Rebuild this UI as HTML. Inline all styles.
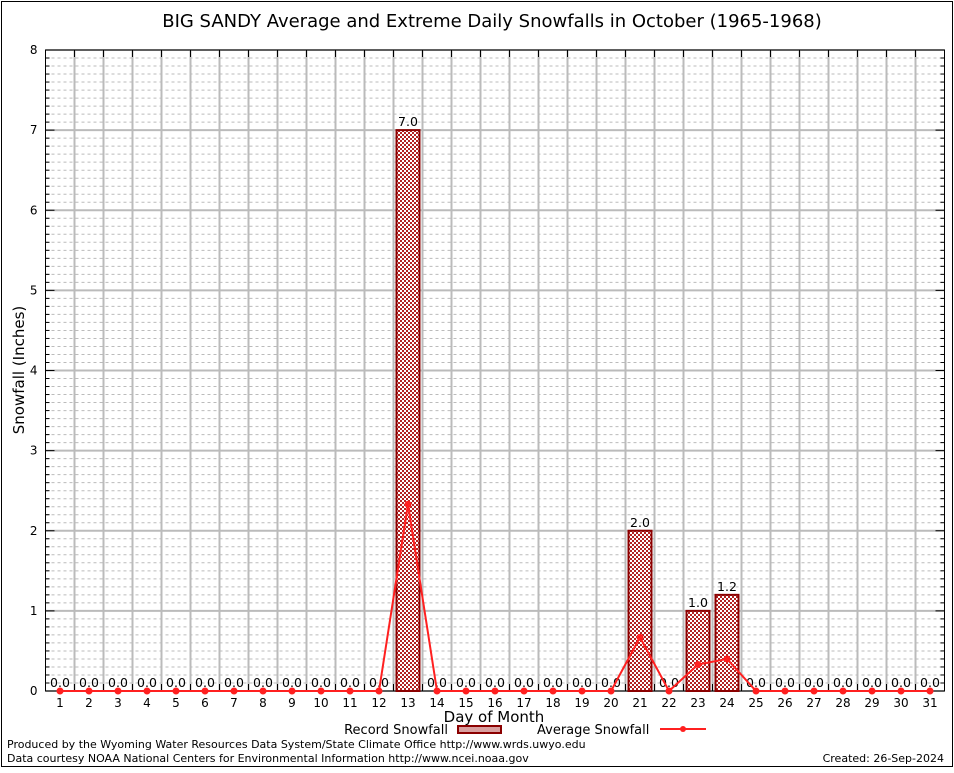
<!DOCTYPE html>
<html><head><meta charset="utf-8"><style>
body{margin:0;background:#fff;}
svg text{font-family:"DejaVu Sans","Liberation Sans",sans-serif;}
</style></head><body>
<svg id="chart" width="954" height="768" xmlns="http://www.w3.org/2000/svg">
<rect x="1.5" y="1.5" width="951" height="765" fill="#fff" stroke="#000" stroke-width="1"/>
<text x="492" y="27" font-size="18" text-anchor="middle">BIG SANDY Average and Extreme Daily Snowfalls in October (1965-1968)</text>
<g id="grid"></g>
<g id="marks"></g>
<text transform="translate(24,370) rotate(-90)" font-size="15" text-anchor="middle">Snowfall (Inches)</text>
<text x="494" y="722" font-size="15" text-anchor="middle">Day of Month</text>
<g>
<text x="448" y="734" font-size="13" text-anchor="end">Record Snowfall</text>
<rect x="458" y="726" width="43" height="7" fill="#d9a0a0" stroke="#8b0000" stroke-width="2"/>
</g>
<g>
<text x="537" y="734" font-size="13">Average Snowfall</text>
<line x1="660" y1="729" x2="706" y2="729" stroke="#ff2020" stroke-width="2"/>
<circle cx="683" cy="729" r="3" fill="#ff2020"/>
</g>
<text x="7" y="748" font-size="11">Produced by the Wyoming Water Resources Data System/State Climate Office http://www.wrds.uwyo.edu</text>
<text x="7" y="762" font-size="11">Data courtesy NOAA National Centers for Environmental Information http://www.ncei.noaa.gov</text>
<text x="944" y="762" font-size="11" text-anchor="end">Created:  26-Sep-2024</text>
</svg>
<script>
const days=[1,2,3,4,5,6,7,8,9,10,11,12,13,14,15,16,17,18,19,20,21,22,23,24,25,26,27,28,29,30,31];
const recordValues=[0,0,0,0,0,0,0,0,0,0,0,0,7.0,0,0,0,0,0,0,0,2.0,0,1.0,1.2,0,0,0,0,0,0,0];
const averageValues=[0,0,0,0,0,0,0,0,0,0,0,0,2.33,0,0,0,0,0,0,0,0.67,0,0.33,0.4,0,0,0,0,0,0,0];
const yTicks=[0,1,2,3,4,5,6,7,8];
const NS="http://www.w3.org/2000/svg";
const L=45.5,R=944.5,T=50,B=691,YMAX=8;
const xs=d=>L+(d-0.5)*(R-L)/31;
const ys=v=>B-v*(B-T)/YMAX;
function mk(tag,attrs,parent,text){const e=document.createElementNS(NS,tag);for(const k in attrs)e.setAttribute(k,attrs[k]);if(text!==undefined)e.textContent=text;parent.appendChild(e);return e;}
const grid=document.getElementById('grid'),marks=document.getElementById('marks');
for(let i=1;i<YMAX*10;i++){if(i%10===0)continue;const y=ys(i/10);
const l=mk('line',{x1:L,x2:R,y1:y,y2:y,stroke:'#bbb','stroke-dasharray':'3,3','stroke-width':1},grid);


mk('line',{x1:L,x2:L+4,y1:y,y2:y,stroke:'#000'},grid);mk('line',{x1:R-4,x2:R,y1:y,y2:y,stroke:'#000'},grid);}
yTicks.forEach(t=>{const y=ys(t);
const l=mk('line',{x1:L,x2:R,y1:y,y2:y,stroke:'#bbb','stroke-width':2},grid);


mk('line',{x1:L,x2:L+9,y1:y,y2:y,stroke:'#000'},grid);mk('line',{x1:R-9,x2:R,y1:y,y2:y,stroke:'#000'},grid);
const tx=mk('text',{x:L-8,y:y+4,'font-size':12,'text-anchor':'end','font-family':'Liberation Serif, serif'},grid,String(t));

});
for(let k=1;k<31;k++){const x=L+k*(R-L)/31;
const l=mk('line',{x1:x,x2:x,y1:T,y2:B,stroke:'#bbb','stroke-width':2},grid);


mk('line',{x1:x,x2:x,y1:T,y2:T+7,stroke:'#000'},grid);mk('line',{x1:x,x2:x,y1:B-7,y2:B,stroke:'#000'},grid);}
days.forEach(d=>{const tx=mk('text',{x:xs(d),y:B+16,'font-size':12,'text-anchor':'middle','font-family':'Liberation Serif, serif'},grid,String(d));

});
mk('rect',{x:L,y:T,width:R-L,height:B-T,fill:'none',stroke:'#000','stroke-width':1},grid);
const defs=mk('defs',{},document.getElementById('chart'));
const p=mk('pattern',{id:'hatch',width:4,height:4,patternUnits:'userSpaceOnUse'},defs);
mk('rect',{width:4,height:4,fill:'#fff'},p);mk('rect',{width:2,height:2,fill:'#b22222'},p);mk('rect',{x:2,y:2,width:2,height:2,fill:'#b22222'},p);
const bw=23;
days.forEach((d,i)=>{const v=recordValues[i];
if(v>0){const r=mk('rect',{x:xs(d)-bw/2,y:ys(v),width:bw,height:B-ys(v),fill:'url(#hatch)',stroke:'#8b0000','stroke-width':2},marks);

}
const t=mk('text',{x:xs(d),y:ys(v)-4,'font-size':12.5,'text-anchor':'middle'},marks,v.toFixed(1));

});
const pts=days.map((d,i)=>xs(d)+','+ys(averageValues[i])).join(' ');
const pl=mk('polyline',{points:pts,fill:'none',stroke:'#ff2020','stroke-width':2},marks);


days.forEach((d,i)=>{const c=mk('circle',{cx:xs(d),cy:ys(averageValues[i]),r:3.5,fill:'#ff2020'},marks);

});
</script>
</body></html>
